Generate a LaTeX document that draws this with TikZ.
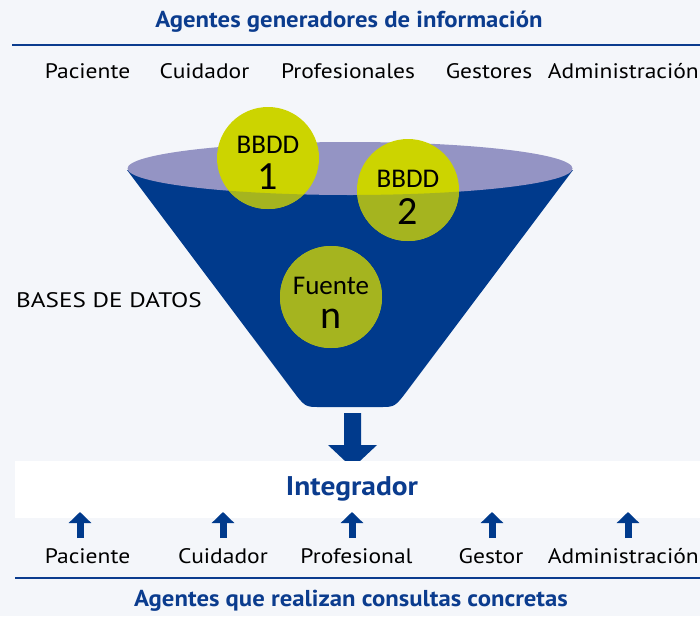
\documentclass[tikz,border=0pt]{standalone}
\usepackage{fontspec}
\setmainfont{PT Sans}
\newfontfamily\titlefont[FakeStretch=1.075]{PT Sans}
\newfontfamily\intfont[FakeStretch=1.09]{PT Sans}
\newfontfamily\labfont[FakeStretch=1.12]{PT Sans}
\newfontfamily\widefont[FakeStretch=1.2]{PT Sans}
\newfontfamily\circfont{Carlito}
\usetikzlibrary{arrows.meta}
\definecolor{bgcol}{HTML}{F4F6FA}
\definecolor{navy}{HTML}{003A8C}
\definecolor{titleblue}{HTML}{0B3C8E}
\definecolor{rimcol}{HTML}{9494C4}
\definecolor{limebright}{HTML}{CCD400}
\definecolor{limedark}{HTML}{A5B41F}
\tikzset{
  title/.style={text=titleblue, font=\titlefont\bfseries\fontsize{23}{27}\selectfont, inner sep=0pt},
  lbl/.style={text=black, font=\labfont\fontsize{21}{25}\selectfont, inner sep=0pt, anchor=base},
  rule/.style={draw=titleblue, line width=2.5pt},
  disc/.style={circle, fill=limebright, minimum size=102pt, inner sep=0pt},
  small/.style={font=\circfont\fontsize{27}{30}\selectfont, anchor=base, inner sep=0pt, text height=17pt, text depth=0pt},
  big/.style={font=\circfont\fontsize{40}{44}\selectfont, anchor=base, inner sep=0pt, text height=20pt, text depth=0pt},
  uparr/.style={draw=navy, line width=7pt, -{Triangle[width=22pt,length=11pt]}}
}
\begin{document}
\begin{tikzpicture}[x=1pt,y=-1pt]
\useasboundingbox (0,0) rectangle (700,616);
\fill[bgcol] (0,0) rectangle (700,616);

% top title
\node[title] (t1) at (349,22) {Agentes generadores de información};
\coordinate (r1a) at (12,45);
\coordinate (r1b) at (700,45);
\draw[rule] (r1a) -- (r1b);

\node[lbl] (g1) at (87.5,78) {Paciente};
\node[lbl] (g2) at (204.5,78) {Cuidador};
\node[lbl] (g3) at (348,78) {Profesionales};
\node[lbl] (g4) at (489,78) {Gestores};
\node[lbl, anchor=base east] (g5) at (699,78) {Administración};

% funnel body
\fill[navy] (127,170) -- (291.8,389.4) .. controls (305,407) .. (320,407) -- (380,407)
  .. controls (395,407) .. (408.2,389.4) -- (573,170) -- cycle;
\fill[rimcol] (350,168.5) ellipse [x radius=222.5, y radius=26.5];

% discs
\node[disc] (c1) at (268,158) {};
\node[disc] (c2) at (408,190) {};
\node[disc] (c3) at (331,297) {};
\begin{scope}
  \clip (0,168.5) -- (127.5,168.5) arc[start angle=180, end angle=0, x radius=222.5, y radius=26.5]
    -- (700,168.5) -- (700,616) -- (0,616) -- cycle;
  \fill[limedark] (c1.center) circle[radius=51];
  \fill[limedark] (c2.center) circle[radius=51];
  \fill[limedark] (c3.center) circle[radius=51];
\end{scope}
\node[small] (c1a) at (268,153) {BBDD};
\node[big] (c1b) at (268,189) {1};
\node[small] (c2a) at (408,187) {BBDD};
\node[big] (c2b) at (408,224) {2};
\node[small] (c3a) at (331,294) {Fuente};
\node[big] (c3b) at (331,328) {n};

\node[lbl, anchor=base west, font=\widefont\fontsize{21}{25}\selectfont] (bd) at (16,307) {BASES DE DATOS};

% down arrow
\fill[navy] (344,413) -- (361,413) -- (361,445) -- (377,445) -- (352.5,468) -- (328,445) -- (344,445) -- cycle;

% integrator band
\fill[white] (15,461) rectangle (700,518);
\node[text=titleblue, font=\intfont\bfseries\fontsize{27}{31}\selectfont, inner sep=0pt] (integ) at (352,489) {Integrador};

% up arrows
\foreach \i/\x in {1/80,2/223,3/352,4/492,5/628}{
  \coordinate (u\i a) at (\x,538);
  \coordinate (u\i b) at (\x,512);
  \draw[uparr] (u\i a) -- (u\i b);
}

\node[lbl] (h1) at (87.5,563) {Paciente};
\node[lbl] (h2) at (223,563) {Cuidador};
\node[lbl] (h3) at (356.5,563) {Profesional};
\node[lbl] (h4) at (491,563) {Gestor};
\node[lbl, anchor=base east] (h5) at (699,563) {Administración};

\coordinate (r2a) at (15,578);
\coordinate (r2b) at (700,578);
\draw[rule] (r2a) -- (r2b);
\node[title] (t2) at (351,601) {Agentes que realizan consultas concretas};
\end{tikzpicture}
\end{document}
